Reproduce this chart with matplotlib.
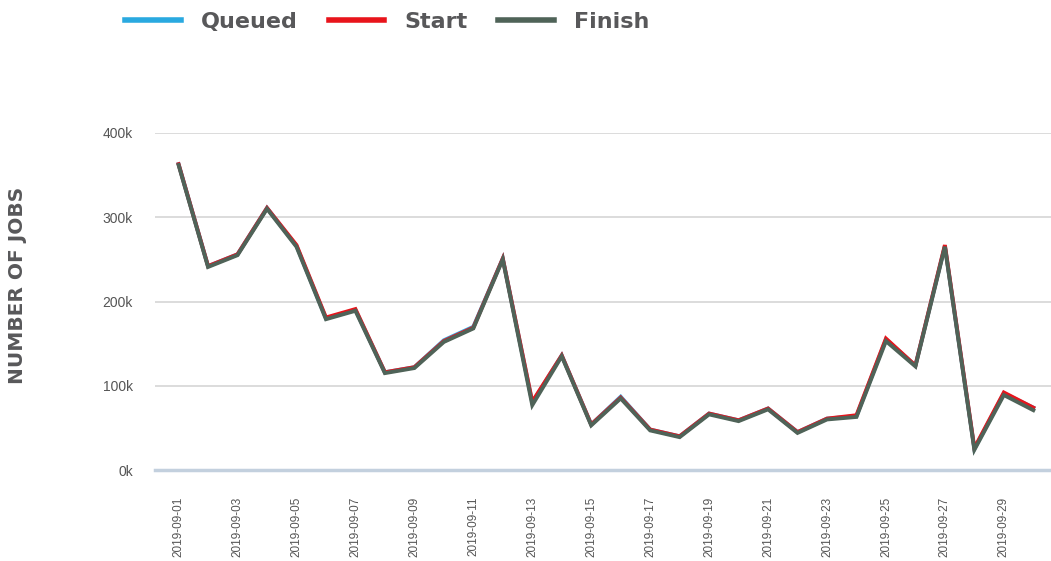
import matplotlib.pyplot as plt
from matplotlib.ticker import FuncFormatter

plt.rcParams["font.family"] = ["Liberation Sans", "DejaVu Sans"]

dates = ["2019-09-%02d" % d for d in range(1, 31)]

# job counts per day
finish = [362000, 241000, 255000, 310000, 265000, 179000, 189000, 115000, 121000, 152000,
          168000, 250000, 77000, 135000, 53000, 85000, 47000, 39000, 66000, 58000,
          72000, 44000, 60000, 63000, 153000, 123000, 265000, 24000, 89000, 71000]
start = [363000, 242000, 256000, 311000, 267000, 181000, 191000, 116000, 122000, 153000,
         169000, 251000, 81000, 136000, 54000, 86000, 48000, 40000, 67000, 59000,
         73000, 45000, 61000, 65000, 156000, 124000, 267000, 26000, 92000, 74000]
queued = [363000, 242000, 256000, 311000, 266000, 180000, 190000, 116000, 122000, 154000,
          170000, 251000, 80000, 136000, 54000, 87000, 48000, 40000, 67000, 59000,
          73000, 45000, 61000, 64000, 155000, 124000, 266000, 25000, 91000, 74000]

fig = plt.figure(figsize=(10.51, 5.61), dpi=100)
ax = fig.add_axes([155 / 1051, 1 - 470 / 561, (1051 - 155) / 1051, (470 - 133) / 561])

x = list(range(len(dates)))
ax.plot(x, queued, color="#2aa9e0", lw=2.8, label="Queued", solid_joinstyle="miter")
ax.plot(x, start, color="#e8141b", lw=2.8, label="Start", solid_joinstyle="miter")
ax.plot(x, finish, color="#4f6358", lw=2.8, label="Finish", solid_joinstyle="miter")

ax.set_xlim(-0.8, 29.6)
ax.set_ylim(0, 400000)
ax.set_yticks([0, 100000, 200000, 300000, 400000])
ax.yaxis.set_major_formatter(FuncFormatter(lambda v, p: "%dk" % (v / 1000)))
ax.set_xticks(x[::2])
ax.set_xticklabels(dates[::2], rotation=90, fontsize=8.5, color="#555555")
ax.tick_params(axis="y", length=0, pad=16, labelsize=10, labelcolor="#555555")
ax.tick_params(axis="x", length=0, pad=19)

ax.grid(axis="y", color="#d6d6d6", lw=1.2)
ax.set_axisbelow(True)
for s in ["top", "right", "left"]:
    ax.spines[s].set_visible(False)
ax.spines["bottom"].set_color("#c3d0de")
ax.spines["bottom"].set_linewidth(2.5)

fig.text(18 / 1051, 1 - 285 / 561, "NUMBER OF JOBS", rotation=90, ha="center", va="center",
         fontsize=14.5, fontweight="bold", color="#58585a", family="DejaVu Sans")

leg = fig.legend(loc="center left", bbox_to_anchor=(125 / 1051, 1 - 22 / 561), ncol=3,
                 frameon=False, borderpad=0, borderaxespad=0,
                 handlelength=2.5, handletextpad=0.9, columnspacing=1.4,
                 prop={"family": "DejaVu Sans", "weight": "bold", "size": 16})
for t in leg.get_texts():
    t.set_color("#58585a")
for h in leg.legend_handles:
    h.set_linewidth(4)

fig.savefig("out.png", dpi=100)
